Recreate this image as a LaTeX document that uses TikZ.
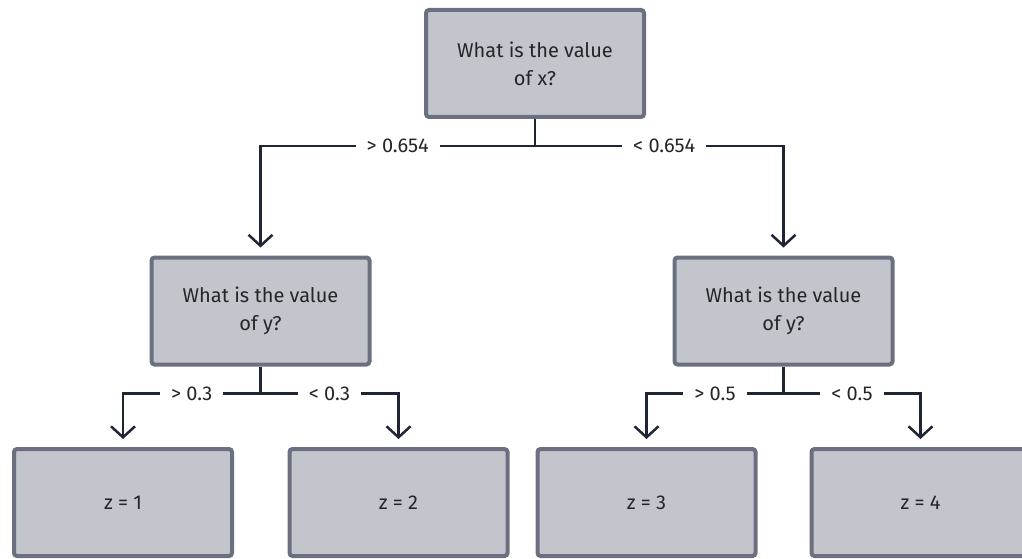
\documentclass[tikz,border=0pt]{standalone}
\usepackage{fontspec}
\setmainfont{Fira Sans}
\usetikzlibrary{arrows.meta}
\definecolor{boxfill}{HTML}{C3C5CD}
\definecolor{boxline}{HTML}{6B7080}
\definecolor{wire}{HTML}{1F2533}
\definecolor{ink}{HTML}{262628}
\begin{document}
\begin{tikzpicture}[x=1pt,y=1pt,
    box/.style={draw=boxline,fill=boxfill,line width=4pt,rounded corners=3pt,
      minimum width=218pt,minimum height=107pt,align=center,text=ink,
      font=\fontsize{20}{28}\selectfont},
    wire/.style={draw=wire,line width=2.5pt},
    arr/.style={wire,-{Straight Barb[length=11pt,width=24pt,line width=2.5pt]},shorten >=8pt},
    lbl/.style={fill=white,text=ink,inner xsep=11pt,inner ysep=2pt,
      font=\fontsize{20}{24}\selectfont}]
  \useasboundingbox (0,0) rectangle (1022,-559);
  \clip (0,0) rectangle (1022,-559);
  % boxes
  \node[box] (root) at (535,-63.5) {What is the value\\of x?};
  \node[box] (yl) at (260.5,-311) {What is the value\\of y?};
  \node[box] (yr) at (783.5,-311) {What is the value\\of y?};
  \node[box] (z1) at (123,-502.5) {z = 1};
  \node[box] (z2) at (398.5,-502.5) {z = 2};
  \node[box] (z3) at (646.5,-502.5) {z = 3};
  \node[box] (z4) at (920.5,-502.5) {z = 4};
  % splits
  \draw[wire] (root.south) -- ++(0,-27) coordinate (rj);
  \draw[arr] (rj) -| node[lbl,pos=0.25] {> 0.654} (yl.north);
  \draw[arr] (rj) -| node[lbl,pos=0.26] {< 0.654} (yr.north);
  \draw[wire] (yl.south) -- ++(0,-27) coordinate (lj);
  \draw[arr] (lj) -| node[lbl,pos=0.25] {> 0.3} (z1.north);
  \draw[arr] (lj) -| node[lbl,pos=0.25] {< 0.3} (z2.north);
  \draw[wire] (yr.south) -- ++(0,-27) coordinate (rj2);
  \draw[arr] (rj2) -| node[lbl,pos=0.25] {> 0.5} (z3.north);
  \draw[arr] (rj2) -| node[lbl,pos=0.25] {< 0.5} (z4.north);
\end{tikzpicture}
\end{document}
